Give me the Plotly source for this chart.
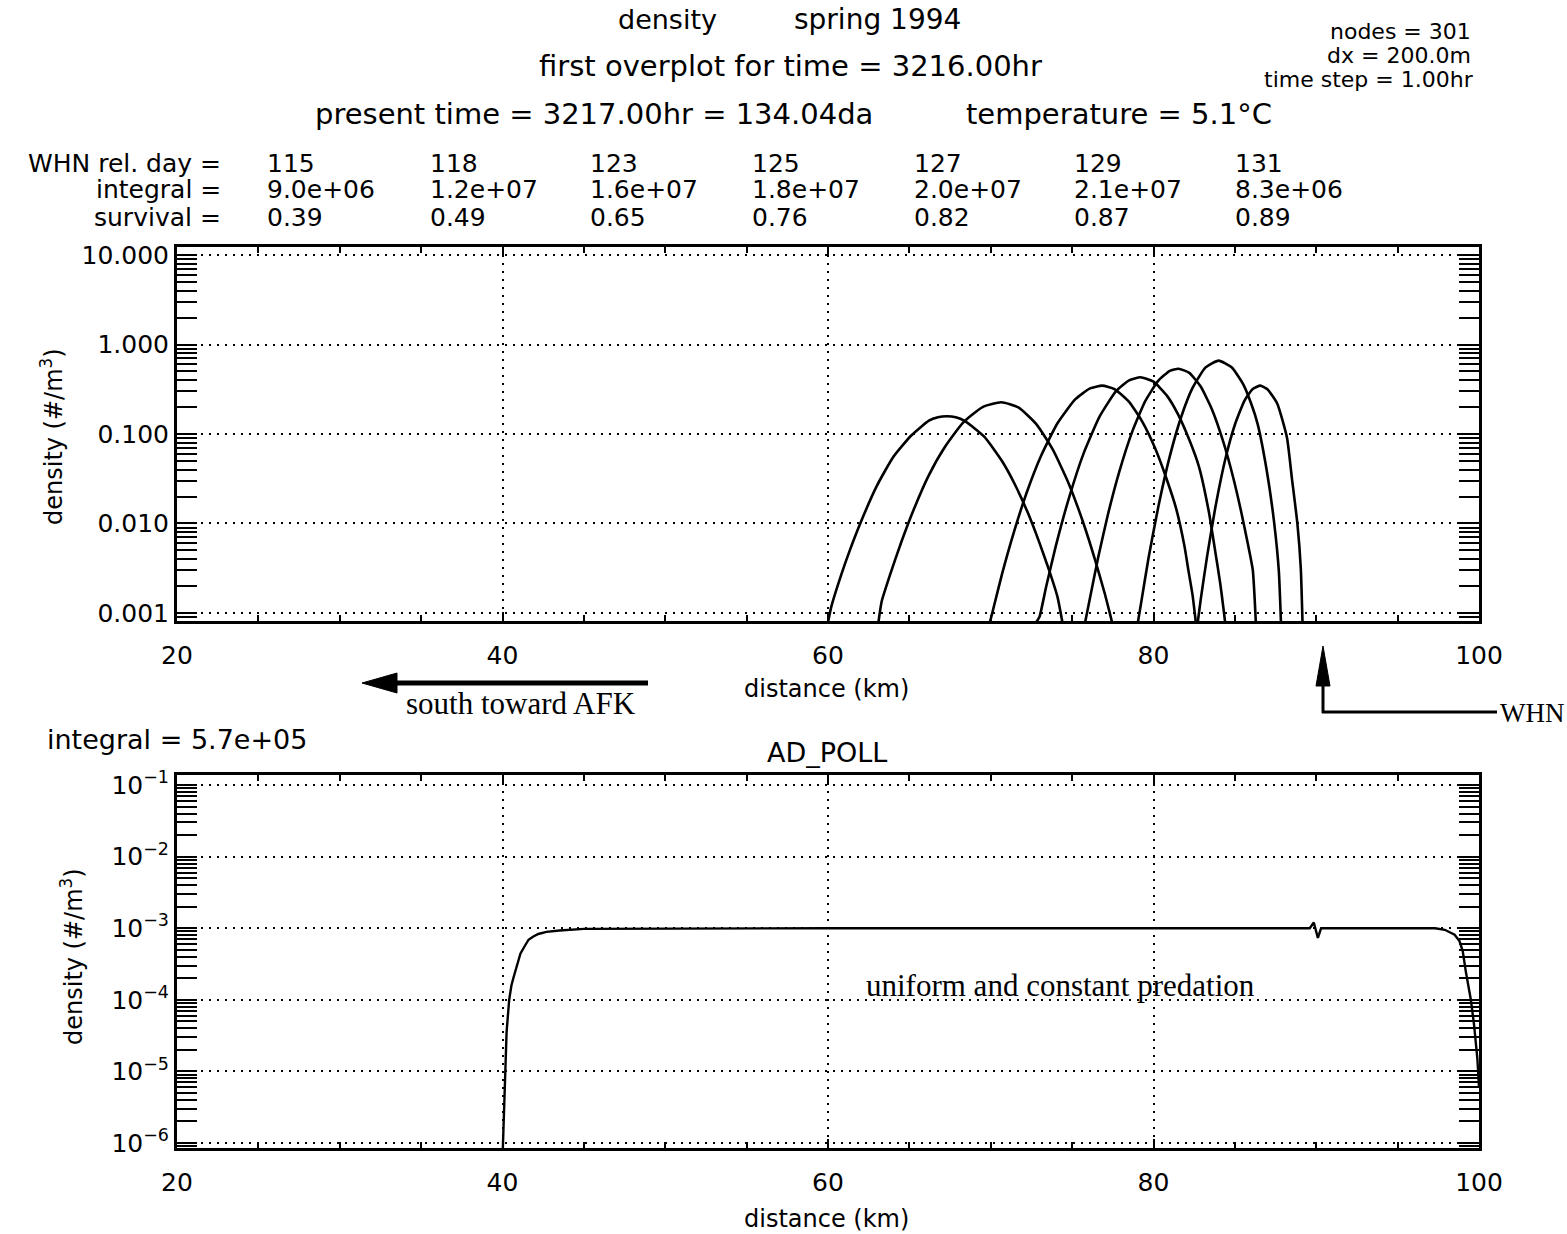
import plotly.graph_objects as go

W, H = 1567, 1234

# ---------------- data ----------------
rel_days = ["115", "118", "123", "125", "127", "129", "131"]
integrals = ["9.0e+06", "1.2e+07", "1.6e+07", "1.8e+07", "2.0e+07", "2.1e+07", "8.3e+06"]
survival = ["0.39", "0.49", "0.65", "0.76", "0.82", "0.87", "0.89"]

dist_115 = [60.0, 60.2, 60.8, 61.3, 62.0, 63.0, 64.0, 65.1, 66.2, 66.75, 67.3, 67.85, 68.4, 69.6, 70.7, 71.5, 72.3, 73.0, 73.6, 74.1, 74.4]
dens_115 = [0.00079, 0.00117, 0.00263, 0.00479, 0.0102, 0.0263, 0.0550, 0.0955, 0.141, 0.154, 0.158, 0.154, 0.140, 0.0933, 0.0495, 0.0269, 0.0129, 0.00603, 0.00295, 0.00151, 0.00079]

dist_118 = [63.1, 63.3, 63.8, 64.5, 65.3, 66.2, 67.2, 68.3, 69.5, 70.65, 71.7, 72.8, 73.8, 74.8, 75.7, 76.4, 77.0, 77.3, 77.45]
dens_118 = [0.00079, 0.00135, 0.00263, 0.00617, 0.0148, 0.0347, 0.0724, 0.134, 0.200, 0.226, 0.198, 0.129, 0.0676, 0.0277, 0.0100, 0.00398, 0.00166, 0.00102, 0.00079]

dist_123 = [69.95, 70.15, 70.7, 71.4, 72.2, 73.1, 74.1, 75.2, 76.1, 76.85, 77.6, 78.5, 79.3, 80.1, 80.8, 81.4, 81.9, 82.15, 82.4, 82.6]
dens_123 = [0.00079, 0.0011, 0.00275, 0.00776, 0.0219, 0.0575, 0.132, 0.245, 0.323, 0.347, 0.318, 0.229, 0.138, 0.0692, 0.0316, 0.0145, 0.00562, 0.00295, 0.00158, 0.00079]

dist_125 = [72.8, 73.0, 73.4, 74.0, 74.8, 75.7, 76.7, 77.7, 78.5, 79.2, 80.0, 80.8, 81.5, 82.2, 82.8, 83.4, 83.8, 84.1, 84.3, 84.4]
dens_125 = [0.00079, 0.00091, 0.00195, 0.00562, 0.0191, 0.0603, 0.158, 0.301, 0.398, 0.431, 0.384, 0.272, 0.167, 0.0861, 0.0427, 0.0135, 0.00479, 0.00214, 0.00112, 0.00079]

dist_127 = [75.75, 76.1, 76.6, 77.2, 77.9, 78.7, 79.5, 80.3, 81.0, 81.54, 82.2, 82.9, 83.6, 84.3, 84.9, 85.4, 85.8, 86.1, 86.3]
dens_127 = [0.00071, 0.00148, 0.00417, 0.0126, 0.038, 0.107, 0.234, 0.395, 0.507, 0.537, 0.482, 0.339, 0.187, 0.0805, 0.0324, 0.0132, 0.00589, 0.00302, 0.00071]

dist_129 = [78.95, 79.2, 79.7, 80.3, 81.0, 81.7, 82.4, 83.2, 84.0, 84.8, 85.5, 86.0, 86.4, 86.96, 87.4, 87.7, 87.85]
dens_129 = [0.00063, 0.00117, 0.00417, 0.0155, 0.0562, 0.155, 0.327, 0.555, 0.661, 0.556, 0.363, 0.219, 0.129, 0.0389, 0.0107, 0.00295, 0.00063]

dist_131 = [82.65, 82.9, 83.3, 83.8, 84.4, 85.0, 85.6, 86.1, 86.56, 87.0, 87.6, 88.2, 88.5, 88.84, 89.05, 89.17]
dens_131 = [0.00063, 0.00141, 0.00437, 0.0151, 0.0513, 0.127, 0.238, 0.318, 0.347, 0.316, 0.219, 0.0912, 0.0324, 0.0100, 0.00316, 0.00063]

adpoll_dist = [40.0, 40.05, 40.11, 40.15, 40.25, 40.41, 40.55, 40.69, 40.95, 41.1, 41.36, 41.6, 41.87, 42.2, 42.7, 43.5, 45.0, 60.0, 80.0, 89.6,
               89.85, 90.1, 90.3, 95.0, 97.3, 97.9, 98.5, 98.8, 99.0, 99.2, 99.5, 99.7, 99.9, 100.0]
adpoll_dens = [6.0e-7, 1.6e-6, 4.2e-6, 1.0e-5, 3.5e-5, 1.0e-4, 1.6e-4, 2.1e-4, 3.3e-4, 4.4e-4, 5.6e-4, 6.9e-4, 7.6e-4, 8.3e-4, 8.9e-4, 9.3e-4, 9.8e-4, 1.0e-3, 1.0e-3, 1.0e-3,
               1.2e-3, 7.3e-4, 1.0e-3, 1.0e-3, 1.0e-3, 9.5e-4, 8.1e-4, 6.6e-4, 4.8e-4, 2.4e-4, 1.0e-4, 4.4e-5, 1.5e-5, 6.0e-6]

x_ticks = [20, 40, 60, 80, 100]
x_minor_ticks = [25, 30, 35, 45, 50, 55, 65, 70, 75, 85, 90, 95]
top_yticks = [10, 1, 0.1, 0.01, 0.001]
top_yticklabels = ["10.000", "1.000", "0.100", "0.010", "0.001"]
bot_yticks = [1e-1, 1e-2, 1e-3, 1e-4, 1e-5, 1e-6]
bot_yticklabels = ["10<sup>\u22121</sup>", "10<sup>\u22122</sup>", "10<sup>\u22123</sup>",
                   "10<sup>\u22124</sup>", "10<sup>\u22125</sup>", "10<sup>\u22126</sup>"]

# ---------------- helpers ----------------
def px(x):
    return x / W


def py(y):
    return 1 - y / H


SANS = "DejaVu Sans"
SERIF = "Liberation Serif"
GRIDDASH = "2px,6px"

fig = go.Figure()

curves = [(dist_115, dens_115), (dist_118, dens_118), (dist_123, dens_123), (dist_125, dens_125),
          (dist_127, dens_127), (dist_129, dens_129), (dist_131, dens_131)]
for d, v in curves:
    fig.add_trace(go.Scatter(x=d, y=v, mode="lines", xaxis="x", yaxis="y",
                             line=dict(color="black", width=2.6, shape="spline", smoothing=0.5),
                             showlegend=False, hoverinfo="skip"))

fig.add_trace(go.Scatter(x=adpoll_dist, y=adpoll_dens, mode="lines", xaxis="x2", yaxis="y2",
                         line=dict(color="black", width=2.4), showlegend=False, hoverinfo="skip"))

minor_top = [k * 10.0 ** e for e in range(-4, 2) for k in range(2, 10)]
minor_bot = [k * 10.0 ** e for e in range(-7, 0) for k in range(2, 10)]

xax_common = dict(range=[20, 100], domain=[px(177), px(1479)], tickmode="array", tickvals=x_ticks,
                  ticks="inside", ticklen=9, tickwidth=2, tickcolor="black", automargin=False,
                  showline=True, linewidth=3, linecolor="black", mirror="allticks",
                  showgrid=True, gridcolor="black", gridwidth=2, griddash=GRIDDASH,
                  zeroline=False, ticklabelstandoff=10,
                  tickfont=dict(family=SANS, size=25, color="black"),
                  minor=dict(tickmode="array", tickvals=x_minor_ticks,
                             ticks="inside", ticklen=6, tickwidth=1.5, tickcolor="black", showgrid=False))

yax_common = dict(type="log", ticks="inside", ticklen=20, tickwidth=2, tickcolor="black",
                  showline=True, linewidth=3, linecolor="black", mirror="allticks", automargin=False,
                  showgrid=True, gridcolor="black", gridwidth=2, griddash=GRIDDASH,
                  zeroline=False, tickmode="array", ticklabelstandoff=0,
                  tickfont=dict(family=SANS, size=25, color="black"))

fig.update_layout(
    width=W, height=H, margin=dict(l=0, r=0, t=0, b=0, autoexpand=False),
    paper_bgcolor="white", plot_bgcolor="white",
    xaxis=dict(anchor="y", **xax_common),
    yaxis=dict(anchor="x", range=[-3.09, 1.09], domain=[py(621), py(247)],
               tickvals=top_yticks, ticktext=top_yticklabels,
               minor=dict(tickmode="array", tickvals=minor_top, ticks="inside", ticklen=20,
                          tickwidth=2, tickcolor="black", showgrid=False),
               **yax_common),
    xaxis2=dict(anchor="y2", **xax_common),
    yaxis2=dict(anchor="x2", range=[-6.07, -0.86], domain=[py(1148), py(775)],
                tickvals=bot_yticks, ticktext=bot_yticklabels,
                minor=dict(tickmode="array", tickvals=minor_bot, ticks="inside", ticklen=20,
                           tickwidth=2, tickcolor="black", showgrid=False),
                **yax_common),
)

ann = []


def text(x, y, s, size=26, family=SANS, xanchor="center", angle=0):
    ann.append(dict(x=px(x), y=py(y), xref="paper", yref="paper", text=s, showarrow=False,
                    xanchor=xanchor, yanchor="middle", textangle=angle,
                    font=dict(family=family, size=size, color="black")))


# header
text(667, 20, "density", 27)
text(877, 20, "spring 1994", 28)
text(790, 66, "first overplot for time = 3216.00hr", 29)
text(594, 114, "present time = 3217.00hr = 134.04da", 29)
text(1119, 114, "temperature = 5.1\u00b0C", 29)
text(1473, 32, "nodes = 301", 22, xanchor="right")
text(1473, 56, "dx = 200.0m", 22, xanchor="right")
text(1476, 80, "time step = 1.00hr", 22, xanchor="right")

# table
text(223, 163, "WHN rel. day =", 25, xanchor="right")
text(223, 190, "integral =", 25, xanchor="right")
text(223, 217, "survival =", 25, xanchor="right")
col_x = [265, 428, 588, 750, 912, 1072, 1233]
for cx, dd, ig, sv in zip(col_x, rel_days, integrals, survival):
    text(cx, 163, dd, 25, xanchor="left")
    text(cx, 190, ig, 25, xanchor="left")
    text(cx, 217, sv, 25, xanchor="left")

# axis titles
text(52, 437, "density (#/m<sup>3</sup>)", 24, angle=-90)
text(72, 957, "density (#/m<sup>3</sup>)", 24, angle=-90)
text(827, 689, "distance (km)", 24)
text(827, 1219, "distance (km)", 24)

# middle annotations
text(521, 703, "south toward AFK", 31, family=SERIF)
text(1498, 713, "WHN", 27, family=SERIF, xanchor="left")
text(45, 739, "integral = 5.7e+05", 27, xanchor="left")
text(827, 752, "AD_POLL", 27)
text(1060, 985, "uniform and constant predation", 31, family=SERIF)

fig.update_layout(annotations=ann)

shapes = []
# south arrow
shapes.append(dict(type="line", xref="paper", yref="paper", x0=px(648), y0=py(683), x1=px(392), y1=py(683),
                   line=dict(color="black", width=5)))
shapes.append(dict(type="path", xref="paper", yref="paper",
                   path=f"M {px(362)} {py(683)} L {px(397)} {py(673)} L {px(397)} {py(693)} Z",
                   fillcolor="black", line=dict(color="black", width=1)))
# WHN arrow
shapes.append(dict(type="line", xref="paper", yref="paper", x0=px(1323), y0=py(713), x1=px(1323), y1=py(680),
                   line=dict(color="black", width=3)))
shapes.append(dict(type="path", xref="paper", yref="paper",
                   path=f"M {px(1323)} {py(646)} L {px(1316)} {py(686)} L {px(1330)} {py(686)} Z",
                   fillcolor="black", line=dict(color="black", width=1)))
shapes.append(dict(type="line", xref="paper", yref="paper", x0=px(1322), y0=py(712), x1=px(1497), y1=py(712),
                   line=dict(color="black", width=3)))
fig.update_layout(shapes=shapes)

fig.write_html("out.html")
